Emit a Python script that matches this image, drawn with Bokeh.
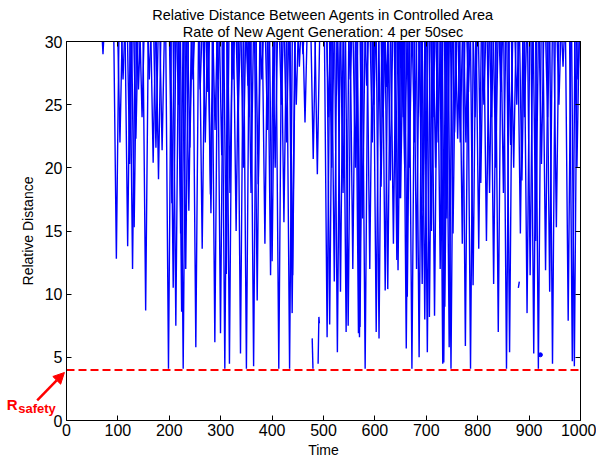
from bokeh.plotting import figure
from bokeh.models import (Range1d, LinearAxis, Arrow, NormalHead, Label, BoxAnnotation,
                          SingleIntervalTicker, CustomLabelingPolicy)
from bokeh.embed import file_html
from bokeh.resources import INLINE

# ---------------- data ----------------
title_line1 = "Relative Distance Between Agents in Controlled Area"
title_line2 = "Rate of New Agent Generation: 4 per 50sec"
x_label = "Time"
y_label = "Relative Distance"

# times of the local minima of the relative distance and their values
dip_time = [71, 97, 104, 110, 119, 123, 128.5, 131.6, 135, 140, 147, 154, 161, 168.6, 174, 179, 186,
            198.4, 205, 207.6, 212.7, 218, 222, 224, 227, 232, 238, 240, 246, 251.6, 260, 264, 270, 275,
            280, 281, 288.6, 289, 295, 299.6, 302, 308, 311, 317, 318, 324, 330, 334, 338.5, 344, 350,
            353, 355, 359, 364, 371, 373, 380, 386, 391, 397, 400, 406, 413, 418, 423, 428, 434, 439,
            440, 447, 453, 460, 464, 480, 488, 507, 510, 512, 516, 521, 527, 530, 533, 538, 544, 548,
            552, 557, 562, 568, 570, 571, 576, 581, 584, 590, 595, 598, 602.5, 608, 612, 616, 620, 622,
            625, 630, 636, 642.7, 645, 648, 650, 655, 658, 661, 663, 667, 672, 677, 681, 686, 689, 692,
            694, 697, 702, 706, 710, 713, 716, 718, 723, 727, 732, 734, 736, 740, 744.5, 748, 752, 755,
            761, 766, 770, 776, 777, 782, 786, 791, 795, 802, 806, 812, 817, 823, 827, 831, 835, 840,
            845, 850, 856, 862, 864, 870, 876, 883, 886, 891, 896, 902, 909, 913, 918, 924, 932, 936,
            940, 945.5, 953, 958, 966, 976, 984, 988, 993, 995]
dip_value = [29, 12.8, 22, 27, 13.8, 20.3, 12.0, 15.3, 22.3, 26.2, 24, 8.7, 27, 20.4, 21.6, 19.1, 21.4,
             4.1, 17.2, 10.5, 7.5, 25, 14.8, 8.6, 4.1, 12, 16.6, 21.6, 27, 5.8, 26.2, 13.6, 22, 26,
             17.9, 16.4, 6.2, 23, 27, 6.9, 21, 4.1, 11.6, 4.5, 18, 27, 15, 24, 5.3, 20, 4.1,
             26.5, 24, 18, 4.3, 9.5, 18.7, 27, 14, 23, 11.5, 12.6, 20, 4.1, 25, 15.7, 22, 4.1, 8.5,
             11.5, 25, 28, 29, 23.6, 20.7, 19.5, 6.6, 24, 7.6, 20, 11, 5.4, 25, 10.2, 18, 7, 7.5,
             27, 12, 20, 6.9, 6.6, 7.4, 16, 4.1, 26.5, 12, 22, 25, 7, 6.5, 18.5, 24, 10.3, 26.4,
             10.4, 19, 14, 12.7, 11.9, 17.6, 17.6, 24, 20, 5.7, 9.8, 20, 4.1, 22, 12, 5.0, 24, 10.8,
             16.6, 8, 5.4, 8.2, 15, 24, 8.3, 20, 22, 12, 4.5, 4.6, 9, 16, 5.8, 4.1, 14.8, 22.8,
             22.3, 22, 14, 5.9, 22, 26, 4.1, 10.7, 24, 13.6, 18.8, 25, 14.2, 18, 24, 10.8, 20, 7,
             26, 18, 4.1, 5.4, 21.8, 20, 25, 14.8, 19, 24, 8.5, 11.5, 5.3, 14.2, 4.1, 20.3, 11.9, 24,
             10.2, 4.5, 15.3, 25, 28, 7.9, 4.7, 4.3, 20, 27]
off_scale_value = 34      # level the distance reaches between two minima (above the window)
half_width = 6            # time from a minimum to that level

# short isolated pieces of track and a single sample
piece_time = [[478, 479.5], [489.5, 491, 492], [879, 881]]
piece_value = [[6.5, 4.1], [4.5, 8.2, 7.7], [10.5, 11.0]]
single_time = [922]
single_value = [5.2]

r_safety = 4
x_min, x_max = 0, 1000
y_min, y_max = 0, 30
x_ticks_step = 100
y_ticks_step = 5

# whole-window view (data units) so that the notes outside the box stay visible
view_x = (-128.4, 1031.1)
view_y = (-3.245, 33.246)

# ---------------- build the curve: each dip leaves the window at y_max ----------------
dip_xs, dip_ys = [], []
for t, v in zip(dip_time, dip_value):
    a = half_width * (y_max - v) / (off_scale_value - v)
    dip_xs.append([t - a, t, t + a])
    dip_ys.append([y_max, v, y_max])

FONT = "Liberation Sans"

p = figure(width=596, height=461, output_backend="svg", toolbar_location=None,
           x_range=Range1d(*view_x), y_range=Range1d(*view_y),
           min_border_left=0, min_border_right=0, min_border_bottom=0, min_border_top=0)
p.title = None
p.background_fill_color = "white"
p.border_fill_color = "white"
p.outline_line_color = None
p.xgrid.visible = False
p.ygrid.visible = False

p.multi_line(dip_xs, dip_ys, color="#0000FF", line_width=1.4, line_join="miter")
p.multi_line(piece_time, piece_value, color="#0000FF", line_width=1.4)
p.scatter(single_time, single_value, size=4, color="#0000FF")

p.line([x_min, x_max], [r_safety, r_safety], color="#FF0000", line_width=2, line_dash="8 4")

# box around the plotted window
p.add_layout(BoxAnnotation(left=x_min, right=x_max, bottom=y_min, top=y_max,
                           fill_color=None, fill_alpha=0, line_color="black", line_width=1))

hide_labels = CustomLabelingPolicy(
    code="try { return new indices.constructor(indices.size) } catch (e) { return indices }")

xa = p.xaxis[0]
ya = p.yaxis[0]
xa.ticker = SingleIntervalTicker(interval=x_ticks_step)
ya.ticker = SingleIntervalTicker(interval=y_ticks_step)
xa.bounds = (x_min, x_max)
ya.bounds = (y_min, y_max)
xa.fixed_location = y_min
ya.fixed_location = x_min
for ax in (xa, ya):
    ax.major_tick_in = 5
    ax.major_tick_out = 0
    ax.minor_tick_in = 0
    ax.minor_tick_out = 0
    ax.axis_line_color = "black"
    ax.axis_line_width = 1
    ax.major_tick_line_color = "black"
    ax.major_label_text_font = FONT
    ax.major_label_text_font_size = "16px"
    ax.major_label_text_color = "black"
    ax.axis_label_text_font = FONT
    ax.axis_label_text_font_size = "14px"
    ax.axis_label_text_font_style = "normal"
    ax.axis_label_text_color = "black"
xa.axis_label = x_label
ya.axis_label = y_label
xa.major_label_standoff = 3
ya.major_label_standoff = 4
xa.axis_label_standoff = 3
ya.axis_label_standoff = 6

top = LinearAxis(ticker=SingleIntervalTicker(interval=x_ticks_step), bounds=(x_min, x_max),
                 fixed_location=y_max, major_label_text_font_size="1px",
                 major_label_policy=hide_labels,
                 major_tick_in=5, major_tick_out=0, minor_tick_in=0, minor_tick_out=0)
right = LinearAxis(ticker=SingleIntervalTicker(interval=y_ticks_step), bounds=(y_min, y_max),
                   fixed_location=x_max, major_label_text_font_size="1px",
                   major_label_policy=hide_labels,
                   major_tick_in=5, major_tick_out=0, minor_tick_in=0, minor_tick_out=0)
p.add_layout(top, "above")
p.add_layout(right, "right")

# two-line title, centred over the box
p.add_layout(Label(x=(x_min + x_max) / 2, y=32.13, text=title_line1, text_align="center",
                   text_baseline="alphabetic", text_font=FONT, text_font_size="14.5px",
                   text_color="black"))
p.add_layout(Label(x=(x_min + x_max) / 2, y=30.79, text=title_line2, text_align="center",
                   text_baseline="alphabetic", text_font=FONT, text_font_size="14.5px",
                   text_color="black"))

# R_safety note
p.add_layout(Arrow(x_start=-57, y_start=1.6, x_end=-4, y_end=3.8, line_color="#FF0000", line_width=2.5,
                   end=NormalHead(size=11, fill_color="#FF0000", line_color="#FF0000")))
p.add_layout(Label(x=-116, y=1.27, text="R", text_color="#FF0000", text_font=FONT,
                   text_font_size="15px", text_font_style="bold", text_baseline="alphabetic"))
p.add_layout(Label(x=-94, y=0.92, text="safety", text_color="#FF0000", text_font=FONT,
                   text_font_size="13px", text_font_style="bold", text_baseline="alphabetic"))

open("out.html", "w").write(file_html(p, INLINE))
